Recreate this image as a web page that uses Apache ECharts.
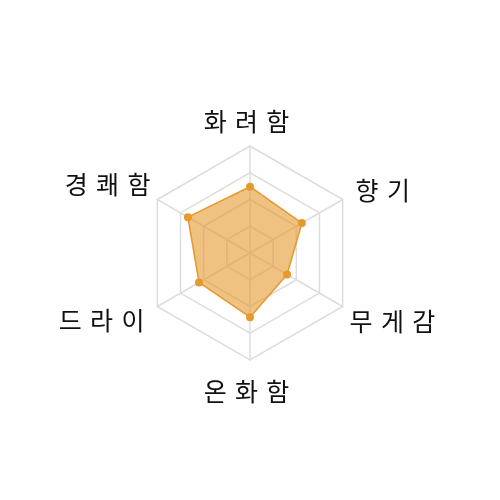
<!DOCTYPE html>
<html>
<head>
<meta charset="utf-8">
<script src="https://cdn.jsdelivr.net/npm/echarts@6/dist/echarts.min.js"></script>
<style>
html,body{margin:0;padding:0;background:#fff;}
#c{width:500px;height:500px;}
</style>
</head>
<body>
<div id="c"></div>
<script>
const indicatorNames = ['화\u2004려\u2004함', '경\u2004쾌\u2004함', '드\u2004라\u2004이', '온\u2004화\u2004함', '무\u2004게\u2004감', '향\u2004기'];
const indicatorMax = [100, 100, 100, 100, 100, 100];
const values = [62, 67, 55, 60, 40, 56];

const labelKeys = ['t', 'ul', 'll', 'b', 'lr', 'ur'];
const base = { color: '#111', fontSize: 25, fontFamily: 'Noto Sans CJK KR' };
const rich = {
  t:  Object.assign({ padding: [0, 7, 4, 0] }, base),
  b:  Object.assign({ padding: [11, 7, 0, 0] }, base),
  ur: Object.assign({ padding: [0, 0, 10, 6] }, base),
  lr: Object.assign({ padding: [21, 0, 0, 0] }, base),
  ll: Object.assign({ padding: [20, 6, 0, 0] }, base),
  ul: Object.assign({ padding: [0, 0, 22, 0] }, base)
};

const chart = echarts.init(document.getElementById('c'));
chart.setOption({
  animation: false,
  radar: {
    center: ['50%', '50.6%'],
    radius: 107,
    startAngle: 90,
    splitNumber: 4,
    shape: 'polygon',
    indicator: indicatorNames.map((n, i) => ({ name: n, max: indicatorMax[i] })),
    axisName: {
      formatter: function (name) {
        const i = indicatorNames.indexOf(name);
        return '{' + labelKeys[i] + '|' + name + '}';
      },
      rich: rich,
      color: '#111',
      fontSize: 25,
      fontFamily: 'Noto Sans CJK KR'
    },
    nameGap: 8,
    splitLine: { lineStyle: { color: '#dddddd', width: 1.5 } },
    splitArea: { show: false },
    axisLine: { lineStyle: { color: '#dddddd', width: 1.5 } }
  },
  series: [{
    type: 'radar',
    symbol: 'circle',
    symbolSize: 8,
    lineStyle: { color: '#E69A2E', width: 1.6 },
    itemStyle: { color: '#E69A2E' },
    areaStyle: { color: '#E69A2E', opacity: 0.6 },
    data: [{ value: values }]
  }]
});
</script>
</body>
</html>
